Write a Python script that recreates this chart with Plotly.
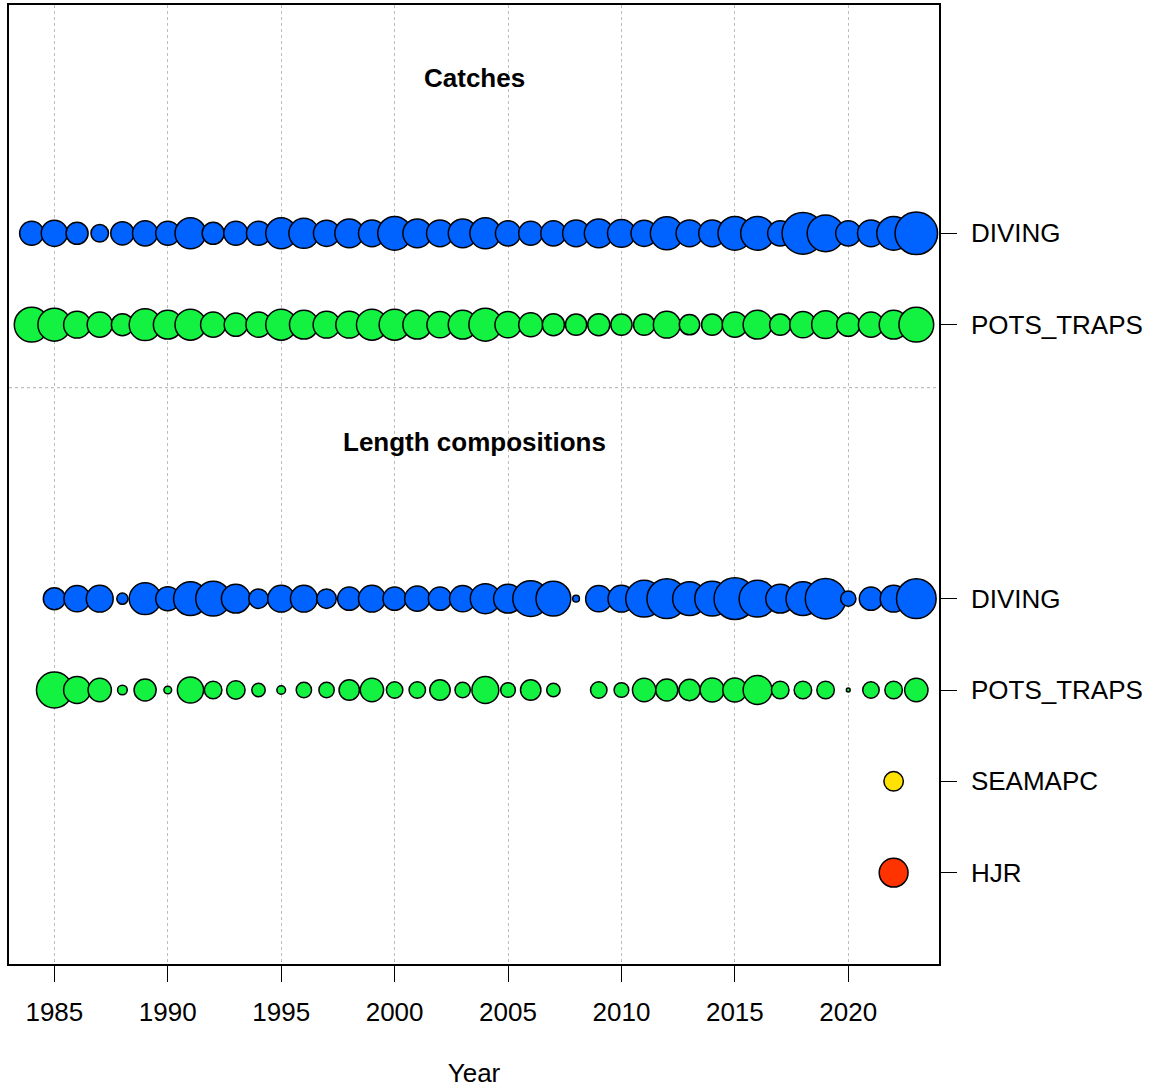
import plotly.graph_objects as go

# ---- data ----
years_catch = list(range(1984, 2024))
catch_diving = [32, 38, 27, 17, 30, 35, 32, 53, 27, 32, 32, 53, 50, 38, 46, 40, 63, 46, 40, 46,
                53, 35, 32, 35, 40, 46, 43, 38, 60, 40, 40, 63, 63, 35, 96, 75, 35, 40, 63, 100]
catch_pots = [67, 60, 40, 35, 27, 56, 46, 53, 35, 30, 35, 53, 46, 40, 40, 53, 53, 46, 38, 46,
              60, 38, 32, 27, 25, 27, 25, 25, 40, 23, 25, 35, 46, 25, 38, 43, 30, 35, 46, 67]

years_len_diving = list(range(1985, 2024))
len_diving = [27, 38, 40, 7, 56, 32, 63, 67, 46, 21, 40, 40, 21, 30, 40, 30, 35, 30, 38, 50,
              46, 71, 67, 2.5, 38, 40, 75, 87, 63, 67, 96, 75, 46, 63, 91, 13, 30, 40, 87]

years_len_pots = [y for y in range(1985, 2024) if y != 2008]
len_pots = [71, 40, 30, 5.2, 27, 3.3, 38, 17, 19, 10, 4.2, 13, 13, 23, 30, 15, 15, 23, 13, 40,
            12, 23, 10, 15, 12, 30, 27, 25, 32, 32, 46, 17, 17, 17, 0.8, 15, 17, 30]

years_seamapc = [2022]
len_seamapc = [21]
years_hjr = [2022]
len_hjr = [46]

row_labels = ["HJR", "SEAMAPC", "POTS_TRAPS", "DIVING", "POTS_TRAPS", "DIVING"]
row_pos = [1, 2, 3, 4, 7, 8]
panel_titles = ["Catches", "Length compositions"]
x_ticks = [1985, 1990, 1995, 2000, 2005, 2010, 2015, 2020]

C_DIV = "#0063FF"
C_POT = "#13F240"
C_SEA = "#FFE201"
C_HJR = "#FF3300"

SREF = 200.0 / (42.5 ** 2)

fig = go.Figure()

def add(xs, vals, ypos, color):
    fig.add_trace(go.Scatter(
        x=xs, y=[ypos] * len(xs), mode="markers",
        marker=dict(size=vals, sizemode="area", sizeref=SREF, sizemin=1.5,
                    color=color, line=dict(color="black", width=1.5), opacity=1),
        showlegend=False, hoverinfo="skip"))

add(years_catch, catch_diving, 8, C_DIV)
add(years_catch, catch_pots, 7, C_POT)
add(years_len_diving, len_diving, 4, C_DIV)
add(years_len_pots, len_pots, 3, C_POT)
add(years_seamapc, len_seamapc, 2, C_SEA)
add(years_hjr, len_hjr, 1, C_HJR)

font = "Liberation Sans, Arial, sans-serif"

fig.update_layout(
    width=1159, height=1090,
    margin=dict(l=9, r=220, t=5, b=126),
    paper_bgcolor="white", plot_bgcolor="white",
    font=dict(family=font, size=26, color="black"),
    xaxis=dict(range=[1983.0, 2024.0], tickvals=x_ticks, ticks="outside", ticklen=16,
               tickwidth=1.3, tickcolor="black", showline=True, linecolor="black",
               linewidth=1.5, mirror=True, showgrid=True, gridcolor="#BDBDBD",
               griddash="dot", gridwidth=1.3, zeroline=False, ticklabelstandoff=8,
               tickfont=dict(size=26), automargin=False,
               title=dict(text="Year", font=dict(size=26), standoff=38)),
    yaxis=dict(range=[0, 10.5], tickvals=row_pos, ticktext=row_labels, side="right",
               ticks="outside", ticklen=16, tickwidth=1.3, tickcolor="black",
               showline=True, linecolor="black", linewidth=1.5, mirror=True,
               showgrid=False, zeroline=False, ticklabelstandoff=9,
               tickfont=dict(size=26), automargin=False),
)

fig.add_shape(type="line", xref="paper", yref="y", x0=0, x1=1, y0=6.31, y1=6.31,
              line=dict(color="#BDBDBD", width=1.3, dash="dot"))

fig.add_annotation(x=2003.5, y=9.70, xref="x", yref="y", text="<b>" + panel_titles[0] + "</b>",
                   showarrow=False, font=dict(size=26))
fig.add_annotation(x=2003.5, y=5.72, xref="x", yref="y", text="<b>" + panel_titles[1] + "</b>",
                   showarrow=False, font=dict(size=26))

fig.write_html("out.html")
